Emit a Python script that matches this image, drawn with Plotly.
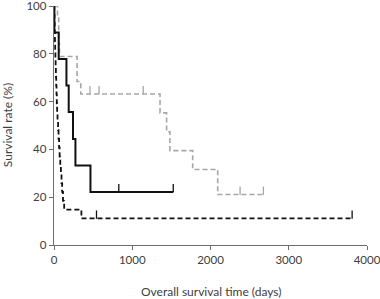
import plotly.graph_objects as go

# Gray dashed group
gray_t = [0, 45, 60, 70, 295, 342, 1355, 1439, 1481, 1772, 2092, 2676]
gray_s = [100, 95.8, 84.2, 78.9, 68.4, 63.2, 55.3, 47.4, 39.5, 31.6, 21.1, 21.1]
gray_cens_t = [460, 576, 1140, 2378, 2676]
gray_cens_s = [63.2, 63.2, 63.2, 21.1, 21.1]

# Black solid group
solid_t = [0, 5, 60, 159, 188, 243, 274, 466, 1524]
solid_s = [100, 88.9, 77.8, 66.7, 55.6, 44.4, 33.3, 22.2, 22.2]
solid_cens_t = [828, 1524]
solid_cens_s = [22.2, 22.2]

# Black dashed group
dash_t = [0, 3, 6, 9, 12, 15, 18, 21, 24, 28, 32, 36, 40, 45, 52, 58, 65, 72, 80,
          88, 96, 104, 115, 130, 350, 3810]
dash_s = [100, 96.3, 92.6, 88.9, 85.2, 81.5, 77.8, 74.1, 70.4, 66.7, 63.0, 59.3,
          55.6, 51.9, 48.1, 44.4, 40.7, 37.0, 33.3, 29.6, 25.9, 22.2, 18.5, 14.8,
          11.1, 11.1]
dash_cens_t = [543, 3810]
dash_cens_s = [11.1, 11.1]

x_ticks = [0, 1000, 2000, 3000, 4000]
y_ticks = [0, 20, 40, 60, 80, 100]

GRAY = "#A6A6A6"
BLACK = "#111111"
AXIS = "#6E6E6E"
TICK_OFF = 1.6

fig = go.Figure()

def add_curve(t, s, ct, cs, color, width, dash):
    fig.add_trace(go.Scatter(x=t, y=s, mode="lines", line_shape="hv",
                             line=dict(color=color, width=width, dash=dash),
                             cliponaxis=False, showlegend=False, hoverinfo="skip"))
    fig.add_trace(go.Scatter(x=ct, y=[v + TICK_OFF for v in cs], mode="markers",
                             marker=dict(symbol="line-ns", size=6,
                                         line=dict(color=color, width=1.3)),
                             cliponaxis=False, showlegend=False, hoverinfo="skip"))

add_curve(gray_t, gray_s, gray_cens_t, gray_cens_s, GRAY, 1.6, "5px,3px")
add_curve(solid_t, solid_s, solid_cens_t, solid_cens_s, BLACK, 2, "solid")
add_curve(dash_t, dash_s, dash_cens_t, dash_cens_s, BLACK, 1.8, "5px,3px")

tick_font = dict(family="Lato, Open Sans, sans-serif", size=11.5, color="#404040")
title_font = dict(family="Lato, Open Sans, sans-serif", size=12, color="#404040")

fig.update_layout(
    width=380, height=299,
    margin=dict(l=54, r=13, t=6, b=54),
    paper_bgcolor="white", plot_bgcolor="white",
    font=tick_font,
    xaxis=dict(range=[0, 4000], tickvals=x_ticks, showgrid=False, zeroline=False,
               showline=True, linecolor=AXIS, linewidth=1.3,
               ticks="outside", ticklen=4, tickcolor=AXIS, tickfont=tick_font,
               ticklabeloverflow="allow", automargin=False),
    yaxis=dict(range=[0, 100], tickvals=y_ticks, showgrid=False, zeroline=False,
               showline=True, linecolor=AXIS, linewidth=1.3,
               ticks="outside", ticklen=4, tickcolor=AXIS, tickfont=tick_font,
               ticklabeloverflow="allow", automargin=False),
    annotations=[
        dict(text="Overall survival time (days)", xref="paper", yref="paper",
             x=0.5, y=-0.196, xanchor="center", yanchor="middle",
             showarrow=False, font=title_font),
        dict(text="Survival rate (%)", xref="paper", yref="paper",
             x=-0.148, y=0.5, xanchor="center", yanchor="middle",
             textangle=-90, showarrow=False, font=title_font),
    ],
)

fig.write_html("out.html", config={"displayModeBar": False, "staticPlot": True},
               post_script="document.body.style.margin='0';")
